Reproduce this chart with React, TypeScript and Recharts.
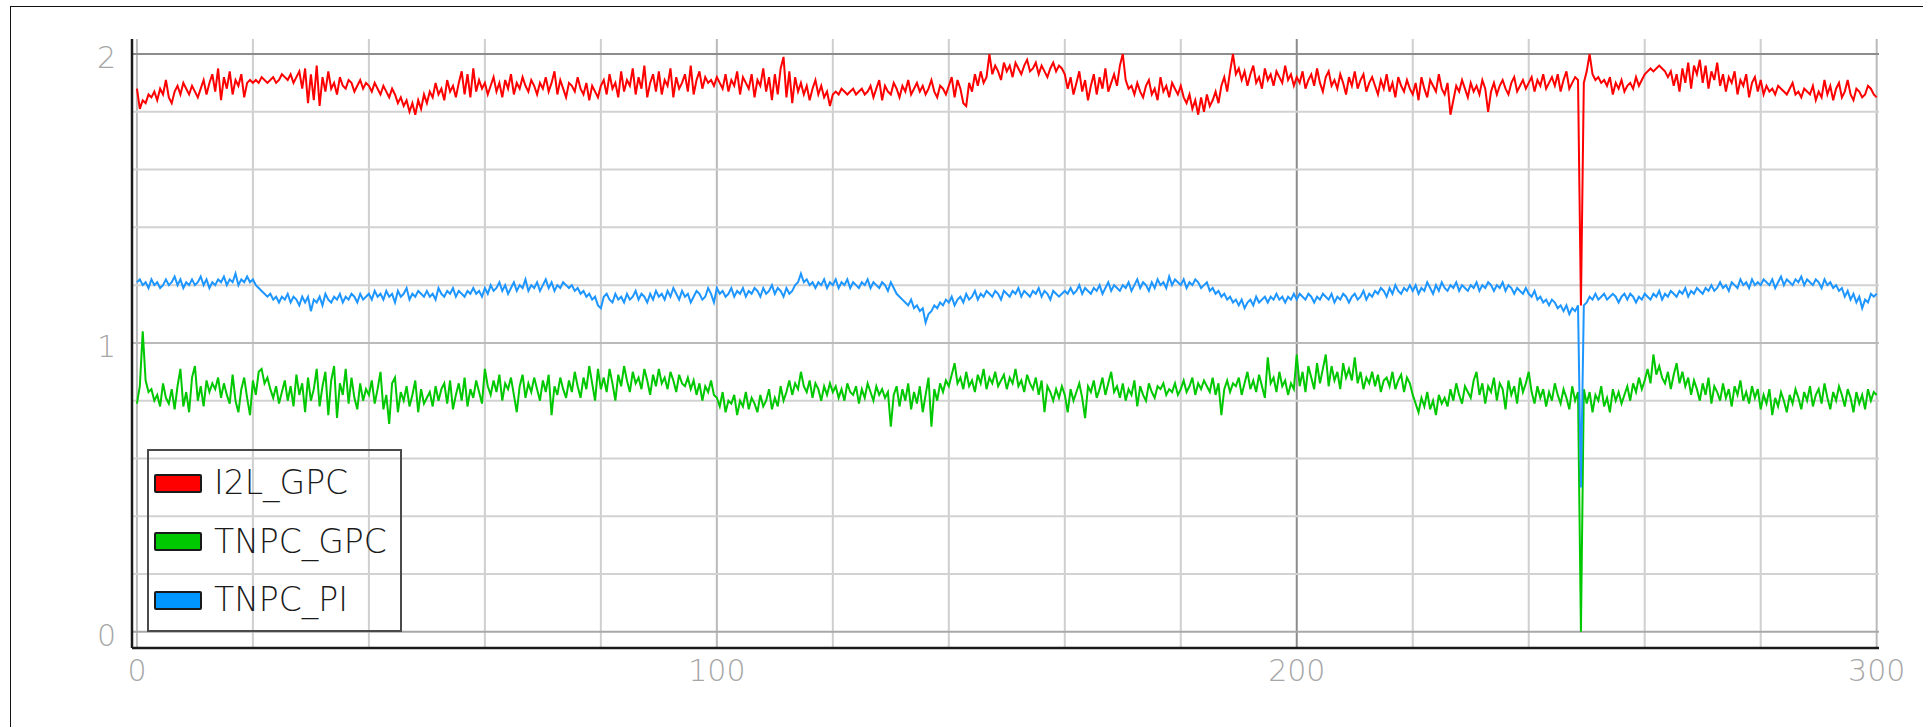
import React from 'react';
import { LineChart, Line, XAxis, YAxis, ReferenceLine } from 'recharts';

// I2L_GPC, sampled every 0.5 from 0 to 300
const i2lGpc = [
  1.88,1.81,1.84,1.83,1.86,1.85,1.87,1.84,1.88,1.86,1.91,1.85,1.83,1.87,1.89,1.86,1.90,1.88,1.86,1.89,
  1.87,1.85,1.88,1.91,1.86,1.90,1.93,1.87,1.95,1.84,1.92,1.88,1.94,1.86,1.91,1.89,1.93,1.85,1.90,1.91,
  1.90,1.91,1.90,1.92,1.91,1.90,1.91,1.92,1.90,1.91,1.93,1.92,1.91,1.93,1.90,1.92,1.94,1.88,1.95,1.83,
  1.93,1.84,1.96,1.82,1.92,1.87,1.94,1.88,1.90,1.86,1.92,1.89,1.88,1.91,1.90,1.87,1.89,1.91,1.88,1.90,
  1.89,1.87,1.90,1.88,1.86,1.89,1.87,1.85,1.88,1.86,1.83,1.85,1.82,1.84,1.80,1.83,1.79,1.84,1.81,1.86,
  1.83,1.87,1.85,1.90,1.86,1.88,1.84,1.91,1.87,1.89,1.85,1.90,1.94,1.86,1.93,1.85,1.95,1.87,1.91,1.88,
  1.90,1.86,1.89,1.92,1.87,1.90,1.85,1.91,1.88,1.93,1.86,1.90,1.88,1.92,1.89,1.87,1.91,1.89,1.86,1.90,
  1.88,1.92,1.87,1.90,1.94,1.86,1.91,1.88,1.85,1.90,1.89,1.87,1.92,1.88,1.86,1.90,1.84,1.89,1.87,1.85,
  1.89,1.91,1.86,1.93,1.88,1.90,1.85,1.94,1.87,1.91,1.89,1.95,1.86,1.92,1.88,1.96,1.85,1.90,1.93,1.87,
  1.94,1.86,1.91,1.89,1.95,1.85,1.92,1.88,1.90,1.93,1.87,1.96,1.86,1.91,1.94,1.88,1.92,1.90,1.91,1.89,
  1.92,1.90,1.88,1.93,1.87,1.91,1.89,1.94,1.86,1.92,1.90,1.88,1.93,1.85,1.91,1.89,1.95,1.87,1.92,1.84,
  1.93,1.86,1.95,1.99,1.85,1.94,1.83,1.92,1.87,1.90,1.86,1.89,1.84,1.88,1.91,1.86,1.89,1.85,1.87,1.82,
  1.86,1.87,1.86,1.88,1.87,1.86,1.87,1.88,1.86,1.87,1.88,1.86,1.87,1.89,1.85,1.88,1.91,1.84,1.89,1.87,
  1.86,1.90,1.88,1.85,1.89,1.87,1.91,1.86,1.88,1.90,1.87,1.89,1.86,1.88,1.91,1.87,1.85,1.89,1.88,1.86,
  1.89,1.92,1.85,1.91,1.88,1.83,1.82,1.90,1.87,1.93,1.89,1.94,1.90,1.92,2.00,1.93,1.96,1.94,1.91,1.97,
  1.94,1.96,1.92,1.97,1.95,1.93,1.96,1.98,1.94,1.95,1.97,1.93,1.96,1.94,1.92,1.95,1.97,1.94,1.96,1.95,
  1.93,1.88,1.92,1.86,1.90,1.94,1.87,1.91,1.84,1.89,1.93,1.86,1.92,1.88,1.95,1.87,1.90,1.93,1.89,1.96,
  2.00,1.91,1.88,1.89,1.86,1.90,1.87,1.85,1.89,1.91,1.86,1.88,1.84,1.92,1.87,1.89,1.85,1.90,1.88,1.86,
  1.89,1.85,1.83,1.86,1.81,1.84,1.79,1.85,1.80,1.86,1.82,1.84,1.87,1.83,1.89,1.92,1.87,1.94,2.00,1.93,
  1.95,1.91,1.94,1.89,1.93,1.96,1.90,1.92,1.88,1.95,1.91,1.93,1.89,1.94,1.92,1.90,1.96,1.91,1.93,1.89,
  1.92,1.90,1.94,1.88,1.91,1.93,1.89,1.95,1.90,1.87,1.92,1.94,1.89,1.91,1.88,1.93,1.90,1.86,1.92,1.89,
  1.94,1.88,1.91,1.93,1.87,1.90,1.92,1.89,1.86,1.91,1.88,1.93,1.87,1.90,1.85,1.92,1.89,1.87,1.91,1.88,
  1.86,1.90,1.84,1.92,1.88,1.85,1.91,1.89,1.87,1.93,1.88,1.86,1.90,1.79,1.84,1.89,1.87,1.91,1.88,1.85,
  1.90,1.87,1.89,1.86,1.91,1.88,1.80,1.87,1.90,1.86,1.89,1.91,1.88,1.86,1.90,1.92,1.87,1.89,1.91,1.88,
  1.90,1.92,1.87,1.91,1.89,1.93,1.88,1.90,1.92,1.89,1.93,1.87,1.91,1.94,1.88,1.90,1.92,1.91,1.13,1.90,
  1.94,2.00,1.93,1.91,1.92,1.90,1.91,1.89,1.92,1.86,1.90,1.88,1.91,1.87,1.89,1.90,1.88,1.92,1.89,1.91,
  1.93,1.94,1.95,1.94,1.95,1.96,1.95,1.94,1.92,1.94,1.89,1.93,1.87,1.95,1.90,1.97,1.88,1.96,1.93,1.98,
  1.90,1.96,1.88,1.94,1.91,1.97,1.89,1.93,1.87,1.92,1.90,1.94,1.86,1.91,1.89,1.93,1.85,1.90,1.92,1.87,
  1.91,1.86,1.89,1.87,1.88,1.86,1.89,1.88,1.87,1.86,1.88,1.90,1.86,1.87,1.85,1.88,1.87,1.86,1.89,1.84,
  1.87,1.85,1.91,1.86,1.89,1.84,1.88,1.90,1.85,1.87,1.91,1.86,1.84,1.88,1.87,1.85,1.86,1.89,1.88,1.86,
  1.85,
];

// TNPC_GPC
const tnpcGpc = [
  0.79,0.85,1.04,0.87,0.83,0.84,0.80,0.82,0.78,0.86,0.81,0.79,0.84,0.77,0.85,0.91,0.78,0.83,0.76,0.88,
  0.92,0.80,0.85,0.78,0.87,0.83,0.86,0.84,0.88,0.81,0.86,0.82,0.79,0.89,0.80,0.76,0.84,0.88,0.81,0.75,
  0.87,0.82,0.90,0.91,0.86,0.88,0.84,0.81,0.85,0.79,0.83,0.87,0.80,0.85,0.78,0.89,0.82,0.86,0.76,0.88,
  0.80,0.84,0.91,0.78,0.85,0.90,0.75,0.87,0.92,0.74,0.86,0.82,0.91,0.79,0.88,0.81,0.77,0.86,0.80,0.84,
  0.82,0.87,0.79,0.84,0.90,0.77,0.82,0.72,0.86,0.88,0.76,0.83,0.80,0.85,0.78,0.82,0.87,0.76,0.84,0.79,
  0.81,0.83,0.78,0.85,0.80,0.84,0.86,0.79,0.87,0.77,0.82,0.86,0.80,0.88,0.78,0.84,0.81,0.87,0.83,0.79,
  0.91,0.85,0.82,0.87,0.83,0.89,0.80,0.86,0.84,0.88,0.82,0.76,0.85,0.89,0.81,0.86,0.83,0.88,0.84,0.80,
  0.87,0.83,0.89,0.75,0.85,0.82,0.88,0.84,0.81,0.87,0.83,0.90,0.85,0.81,0.88,0.84,0.92,0.86,0.80,0.91,
  0.84,0.88,0.83,0.91,0.86,0.80,0.89,0.85,0.92,0.87,0.83,0.90,0.86,0.88,0.84,0.91,0.87,0.82,0.89,0.85,
  0.91,0.86,0.88,0.84,0.90,0.87,0.83,0.89,0.86,0.85,0.88,0.84,0.87,0.82,0.86,0.80,0.85,0.83,0.87,0.82,
  0.81,0.78,0.83,0.76,0.80,0.79,0.82,0.75,0.80,0.78,0.83,0.77,0.81,0.79,0.76,0.82,0.78,0.80,0.84,0.77,
  0.81,0.78,0.85,0.80,0.83,0.87,0.82,0.86,0.84,0.90,0.85,0.83,0.87,0.81,0.86,0.84,0.80,0.85,0.82,0.86,
  0.83,0.85,0.81,0.84,0.80,0.86,0.83,0.82,0.85,0.79,0.84,0.81,0.86,0.83,0.80,0.85,0.82,0.84,0.81,0.83,
  0.71,0.82,0.85,0.78,0.84,0.80,0.86,0.77,0.83,0.79,0.85,0.76,0.82,0.88,0.71,0.84,0.80,0.86,0.83,0.87,
  0.85,0.89,0.93,0.86,0.88,0.84,0.90,0.85,0.87,0.83,0.89,0.86,0.91,0.84,0.88,0.86,0.90,0.85,0.87,0.89,
  0.84,0.88,0.86,0.91,0.85,0.87,0.83,0.89,0.86,0.84,0.88,0.82,0.87,0.76,0.85,0.83,0.80,0.84,0.81,0.85,
  0.82,0.76,0.84,0.80,0.83,0.86,0.81,0.74,0.85,0.83,0.87,0.81,0.84,0.88,0.82,0.86,0.90,0.83,0.85,0.81,
  0.86,0.80,0.84,0.82,0.87,0.78,0.85,0.82,0.80,0.86,0.83,0.81,0.85,0.84,0.86,0.82,0.84,0.83,0.86,0.82,
  0.84,0.87,0.83,0.85,0.88,0.82,0.86,0.84,0.87,0.85,0.83,0.88,0.82,0.86,0.75,0.84,0.87,0.83,0.86,0.85,
  0.88,0.82,0.86,0.90,0.84,0.87,0.83,0.89,0.85,0.81,0.95,0.86,0.88,0.83,0.90,0.85,0.87,0.82,0.86,0.84,
  0.96,0.85,0.90,0.83,0.92,0.88,0.84,0.93,0.86,0.91,0.96,0.85,0.92,0.87,0.90,0.84,0.93,0.88,0.91,0.87,
  0.95,0.86,0.90,0.84,0.88,0.86,0.90,0.85,0.89,0.83,0.87,0.88,0.85,0.90,0.84,0.87,0.89,0.83,0.88,0.86,
  0.82,0.79,0.76,0.81,0.78,0.83,0.77,0.80,0.75,0.82,0.79,0.81,0.78,0.84,0.80,0.86,0.82,0.79,0.85,0.83,
  0.81,0.87,0.90,0.82,0.86,0.79,0.85,0.83,0.88,0.80,0.86,0.84,0.77,0.87,0.82,0.85,0.79,0.88,0.83,0.86,
  0.90,0.83,0.79,0.85,0.81,0.84,0.78,0.83,0.80,0.86,0.82,0.79,0.84,0.81,0.77,0.85,0.80,0.83,0.00,0.84,
  0.79,0.83,0.76,0.82,0.80,0.85,0.78,0.81,0.76,0.84,0.80,0.83,0.79,0.82,0.85,0.80,0.86,0.83,0.88,0.84,
  0.87,0.91,0.86,0.96,0.89,0.92,0.88,0.86,0.90,0.84,0.89,0.93,0.86,0.90,0.85,0.88,0.82,0.87,0.84,0.80,
  0.86,0.82,0.88,0.79,0.85,0.83,0.80,0.86,0.81,0.84,0.78,0.85,0.82,0.87,0.80,0.83,0.79,0.85,0.81,0.84,
  0.77,0.82,0.79,0.84,0.75,0.81,0.78,0.83,0.80,0.76,0.82,0.79,0.84,0.81,0.77,0.83,0.80,0.85,0.78,0.82,
  0.84,0.79,0.86,0.81,0.77,0.83,0.80,0.85,0.82,0.78,0.84,0.81,0.76,0.83,0.79,0.82,0.77,0.84,0.80,0.83,
  0.82,
];

// TNPC_PI
const tnpcPi = [
  1.21,1.22,1.20,1.21,1.19,1.22,1.20,1.21,1.19,1.20,1.22,1.20,1.21,1.23,1.20,1.22,1.19,1.21,1.20,1.22,
  1.20,1.21,1.23,1.20,1.22,1.19,1.21,1.20,1.22,1.21,1.23,1.20,1.22,1.21,1.24,1.20,1.22,1.21,1.23,1.21,
  1.22,1.20,1.19,1.18,1.17,1.16,1.17,1.15,1.16,1.14,1.16,1.15,1.17,1.14,1.16,1.15,1.13,1.16,1.14,1.16,
  1.11,1.15,1.14,1.16,1.13,1.17,1.15,1.14,1.16,1.15,1.17,1.14,1.16,1.15,1.17,1.16,1.14,1.17,1.15,1.16,
  1.17,1.15,1.18,1.16,1.17,1.15,1.18,1.16,1.17,1.14,1.18,1.16,1.17,1.19,1.15,1.17,1.16,1.18,1.17,1.16,
  1.18,1.16,1.17,1.15,1.19,1.17,1.16,1.18,1.17,1.19,1.16,1.18,1.17,1.16,1.18,1.17,1.19,1.17,1.18,1.16,
  1.19,1.17,1.20,1.18,1.19,1.21,1.18,1.20,1.17,1.19,1.21,1.18,1.20,1.19,1.22,1.18,1.20,1.19,1.21,1.18,
  1.20,1.22,1.19,1.21,1.18,1.20,1.19,1.21,1.20,1.19,1.20,1.18,1.19,1.17,1.18,1.16,1.17,1.15,1.16,1.13,
  1.12,1.16,1.17,1.15,1.14,1.17,1.15,1.16,1.14,1.17,1.15,1.16,1.18,1.15,1.17,1.16,1.14,1.17,1.15,1.18,
  1.16,1.17,1.15,1.18,1.16,1.19,1.17,1.15,1.18,1.16,1.17,1.14,1.16,1.18,1.17,1.15,1.16,1.19,1.17,1.14,
  1.19,1.17,1.18,1.16,1.17,1.19,1.16,1.18,1.17,1.19,1.16,1.18,1.17,1.19,1.18,1.16,1.19,1.17,1.18,1.20,
  1.17,1.19,1.18,1.16,1.19,1.17,1.18,1.20,1.21,1.24,1.21,1.22,1.20,1.21,1.19,1.21,1.20,1.22,1.19,1.21,
  1.20,1.22,1.19,1.21,1.20,1.22,1.19,1.21,1.20,1.19,1.21,1.20,1.22,1.19,1.21,1.20,1.19,1.21,1.20,1.18,
  1.21,1.19,1.17,1.16,1.15,1.14,1.13,1.15,1.12,1.13,1.11,1.12,1.07,1.10,1.11,1.13,1.12,1.14,1.13,1.15,
  1.14,1.16,1.13,1.15,1.16,1.14,1.17,1.15,1.16,1.18,1.15,1.17,1.16,1.18,1.17,1.16,1.18,1.17,1.15,1.18,
  1.17,1.16,1.18,1.17,1.19,1.16,1.18,1.17,1.16,1.18,1.17,1.19,1.16,1.18,1.17,1.15,1.18,1.17,1.16,1.17,
  1.18,1.17,1.19,1.17,1.18,1.20,1.17,1.19,1.18,1.17,1.19,1.18,1.20,1.17,1.19,1.21,1.18,1.20,1.19,1.18,
  1.20,1.19,1.21,1.18,1.20,1.22,1.19,1.21,1.20,1.18,1.21,1.19,1.22,1.20,1.21,1.19,1.23,1.20,1.22,1.21,
  1.20,1.22,1.19,1.21,1.20,1.22,1.21,1.19,1.20,1.21,1.18,1.19,1.17,1.18,1.16,1.17,1.15,1.16,1.14,1.15,
  1.13,1.15,1.12,1.14,1.15,1.13,1.16,1.14,1.15,1.16,1.14,1.16,1.15,1.17,1.15,1.16,1.14,1.16,1.15,1.17,
  1.15,1.17,1.16,1.15,1.17,1.16,1.14,1.16,1.15,1.17,1.16,1.15,1.17,1.14,1.16,1.15,1.17,1.16,1.14,1.16,
  1.17,1.15,1.16,1.18,1.15,1.17,1.16,1.18,1.17,1.19,1.18,1.16,1.19,1.17,1.20,1.18,1.17,1.19,1.18,1.20,
  1.18,1.20,1.17,1.19,1.18,1.21,1.19,1.17,1.20,1.18,1.21,1.19,1.18,1.20,1.19,1.21,1.18,1.20,1.19,1.18,
  1.20,1.19,1.21,1.18,1.20,1.19,1.21,1.20,1.18,1.20,1.19,1.21,1.18,1.20,1.19,1.17,1.19,1.18,1.17,1.19,
  1.17,1.16,1.18,1.15,1.16,1.14,1.15,1.13,1.15,1.14,1.12,1.13,1.11,1.13,1.10,1.12,1.11,1.13,0.50,1.13,
  1.14,1.16,1.15,1.17,1.15,1.16,1.17,1.15,1.16,1.17,1.16,1.14,1.16,1.17,1.15,1.17,1.16,1.14,1.16,1.15,
  1.17,1.16,1.15,1.17,1.16,1.18,1.15,1.17,1.16,1.18,1.17,1.16,1.18,1.17,1.19,1.16,1.18,1.17,1.19,1.18,
  1.17,1.19,1.18,1.20,1.18,1.19,1.21,1.19,1.20,1.18,1.21,1.20,1.19,1.22,1.20,1.21,1.19,1.22,1.20,1.21,
  1.20,1.22,1.21,1.20,1.22,1.19,1.21,1.23,1.20,1.22,1.21,1.20,1.22,1.21,1.23,1.20,1.22,1.21,1.20,1.22,
  1.21,1.19,1.22,1.20,1.21,1.19,1.20,1.18,1.19,1.16,1.18,1.15,1.17,1.14,1.16,1.12,1.15,1.14,1.17,1.16,
  1.17,
];

const SAMPLE_STEP = 0.5;
const xTicks = [0, 100, 200, 300];
const yTicks = [0, 1, 2];
const xGrid = [0, 20, 40, 60, 80, 100, 120, 140, 160, 180, 200, 220, 240, 260, 280, 300];
const yGrid = [0, 0.2, 0.4, 0.6, 0.8, 1, 1.2, 1.4, 1.6, 1.8, 2];

const seriesNames = ['I2L_GPC', 'TNPC_GPC', 'TNPC_PI'];
const seriesColors = ['#ff0000', '#00c800', '#1e96ff'];
const legendSwatchColors = ['#ff0000', '#00c800', '#0096ff'];

const data = i2lGpc.map((v, i) => ({
  x: i * SAMPLE_STEP,
  i2l: v,
  gpc: tnpcGpc[i],
  pi: tnpcPi[i],
}));

const FONT = '"DejaVu Sans", Verdana, sans-serif';

const xGridStroke = (v: number) => (v === 200 ? '#8c8c8c' : v % 100 === 0 ? '#bababa' : '#cfcfcf');
const yGridStroke = (v: number) => (v === 2 ? '#8c8c8c' : v === 0 ? '#a8a8a8' : v === 1 ? '#bababa' : '#d2d2d2');

const XTick = (props: any) => (
  <text x={props.x} y={props.y} dy={33} textAnchor="middle" fill="#a6a6a6" fontSize={30} fontFamily={FONT} fontWeight={300}>
    {props.payload.value}
  </text>
);

const YTick = (props: any) => (
  <text x={props.x} y={props.y} dy={14} textAnchor="end" fill="#a6a6a6" fontSize={30} fontFamily={FONT} fontWeight={300}>
    {props.payload.value}
  </text>
);

const LegendBox = () => (
  <div
    style={{
      position: 'absolute',
      left: 147,
      top: 449,
      width: 255,
      height: 183,
      boxSizing: 'border-box',
      border: '2px solid #4a4a4a',
      paddingTop: 3,
      fontFamily: FONT,
      background: 'transparent',
      pointerEvents: 'none',
    }}
  >
    {seriesNames.map((name, i) => (
      <div key={name} style={{ height: 58.5, display: 'flex', alignItems: 'center' }}>
        <span
          style={{
            display: 'inline-block',
            width: 48,
            height: 19,
            boxSizing: 'border-box',
            background: legendSwatchColors[i],
            border: '2px solid #1a1a1a',
            borderRadius: 2,
            marginLeft: 5,
          }}
        />
        <span style={{ marginLeft: 12, fontSize: 33, color: '#1a1a1a', fontWeight: 300, lineHeight: '40px' }}>{name}</span>
      </div>
    ))}
  </div>
);

export default function App() {
  return (
    <div style={{ position: 'absolute', left: 0, top: 0, width: 1923, height: 727, background: '#fff', overflow: 'hidden' }}>
      <div
        style={{
          position: 'absolute',
          left: 10,
          top: 6,
          width: 1913,
          height: 721,
          borderLeft: '1.5px solid #111',
          borderTop: '1.5px solid #111',
        }}
      />
      <div style={{ position: 'absolute', left: 0, top: 0 }}>
        <LineChart width={1923} height={727} data={data} margin={{ top: 39, right: 44, bottom: 39, left: 0 }}>
          <XAxis
            dataKey="x"
            type="number"
            domain={[-0.85, 300.4]}
            allowDataOverflow
            ticks={xTicks}
            interval={0}
            height={40}
            tickSize={0}
            tickMargin={0}
            tickLine={false}
            axisLine={{ stroke: '#1a1a1a', strokeWidth: 2.5 }}
            tick={XTick}
          />
          <YAxis
            type="number"
            domain={[-0.056, 2.052]}
            allowDataOverflow
            ticks={yTicks}
            interval={0}
            width={132}
            tickSize={0}
            tickMargin={16}
            tickLine={false}
            axisLine={{ stroke: '#1a1a1a', strokeWidth: 2.5 }}
            tick={YTick}
          />
          {xGrid.map((v) => (
            <ReferenceLine key={'vx' + v} x={v} stroke={xGridStroke(v)} strokeWidth={2} />
          ))}
          {yGrid.map((v) => (
            <ReferenceLine key={'hy' + v} y={v} stroke={yGridStroke(v)} strokeWidth={2} />
          ))}
          <Line type="linear" dataKey="i2l" name={seriesNames[0]} stroke={seriesColors[0]} strokeWidth={2} dot={false} isAnimationActive={false} />
          <Line type="linear" dataKey="gpc" name={seriesNames[1]} stroke={seriesColors[1]} strokeWidth={2} dot={false} isAnimationActive={false} />
          <Line type="linear" dataKey="pi" name={seriesNames[2]} stroke={seriesColors[2]} strokeWidth={2} dot={false} isAnimationActive={false} />
        </LineChart>
      </div>
      <LegendBox />
    </div>
  );
}
